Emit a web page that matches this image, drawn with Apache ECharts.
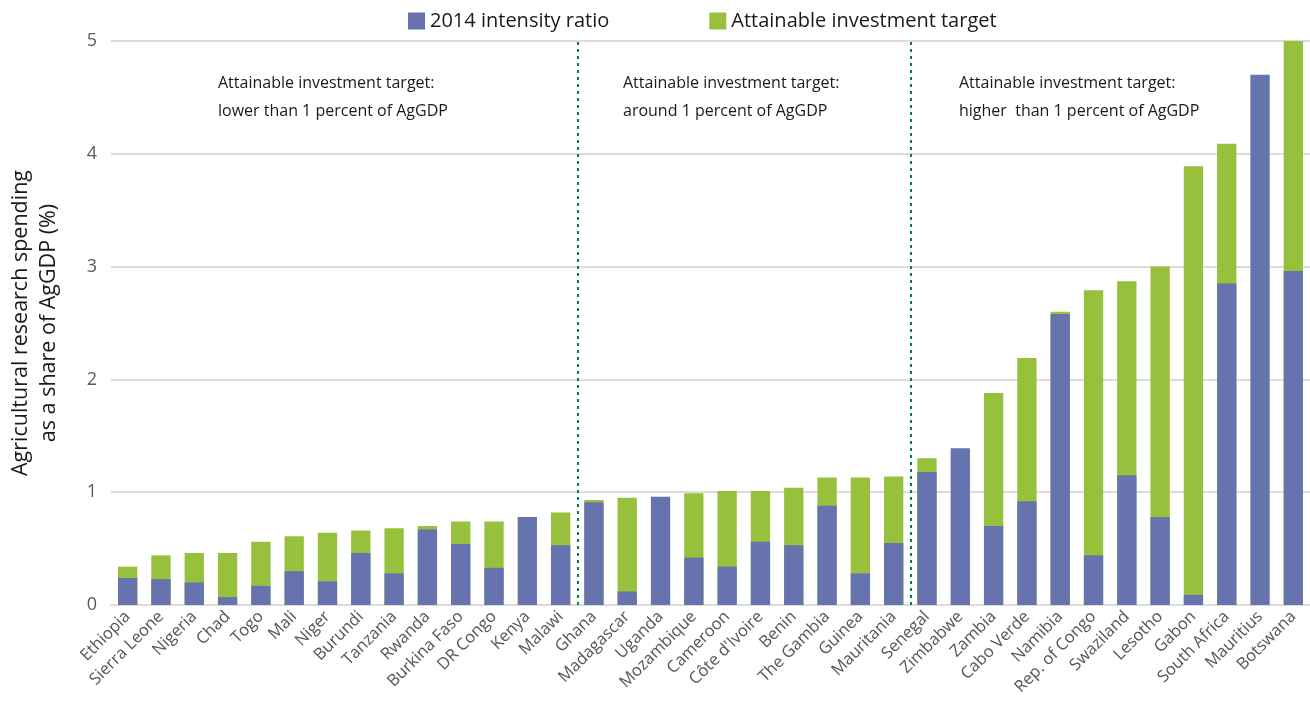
<!DOCTYPE html>
<html>
<head>
<meta charset="utf-8">
<script src="https://cdn.jsdelivr.net/npm/echarts@6/dist/echarts.min.js"></script>
<style>
html,body{margin:0;padding:0;background:#fff;}
#chart{width:1310px;height:706px;}
</style>
</head>
<body>
<div id="chart"></div>
<script>
const countries = ["Ethiopia","Sierra Leone","Nigeria","Chad","Togo","Mali","Niger","Burundi","Tanzania","Rwanda","Burkina Faso","DR Congo","Kenya","Malawi",
  "Ghana","Madagascar","Uganda","Mozambique","Cameroon","Côte d'Ivoire","Benin","The Gambia","Guinea","Mauritania",
  "Senegal","Zimbabwe","Zambia","Cabo Verde","Namibia","Rep. of Congo","Swaziland","Lesotho","Gabon","South Africa","Mauritius","Botswana"];
const intensity2014 = [0.24,0.23,0.20,0.07,0.17,0.30,0.21,0.46,0.28,0.67,0.54,0.33,0.78,0.53,
  0.91,0.12,0.96,0.42,0.34,0.56,0.53,0.88,0.28,0.55,
  1.18,1.39,0.70,0.92,2.58,0.44,1.15,0.78,0.09,2.85,4.70,2.96];
const attainableTarget = [0.34,0.44,0.46,0.46,0.56,0.61,0.64,0.66,0.68,0.70,0.74,0.74,null,0.82,
  0.93,0.95,null,0.99,1.01,1.01,1.04,1.13,1.13,1.14,
  1.30,null,1.88,2.19,2.60,2.79,2.87,3.00,3.89,4.09,null,5.00];
const yTicks = [0,1,2,3,4,5];
const dividerPositions = [14,24];
const groupNotes = [
  ["Attainable investment target:","lower than 1 percent of AgGDP"],
  ["Attainable investment target:","around 1 percent of AgGDP"],
  ["Attainable investment target:","higher  than 1 percent of AgGDP"]
];
const seriesNames = ["2014 intensity ratio","Attainable investment target"];

const FONT = "'Open Sans', 'Noto Sans', sans-serif";
const BLUE = "#6673af";
const GREEN = "#97c13c";

const chart = echarts.init(document.getElementById('chart'));
const noteX = [218, 623, 959];
const graphics = [];
groupNotes.forEach((lines, i) => {
  lines.forEach((t, j) => {
    graphics.push({type:'text', left: noteX[i], top: 75 + j*28,
      style:{text:t, font:"16px " + FONT, fill:'#1a1a1a'}});
  });
});

chart.setOption({
  animation:false,
  textStyle:{fontFamily:FONT},
  legend:{
    top:6, left:403, itemWidth:17, itemHeight:17, itemGap:100, icon:'rect',
    data:seriesNames,
    textStyle:{fontSize:20, color:'#1a1a1a', fontFamily:FONT}
  },
  grid:{left:111, right:0, top:41, bottom:101, containLabel:false, outerBoundsMode:'none'},
  xAxis:[{
    type:'category', data:countries,
    axisTick:{show:false},
    axisLine:{show:true, lineStyle:{color:'#dcdcdc', width:2}},
    axisLabel:{rotate:45, fontSize:16.5, color:'#555', interval:0, margin:9, fontFamily:FONT}
  },{
    type:'value', min:0, max:countries.length, show:false
  }],
  yAxis:{
    type:'value', min:yTicks[0], max:yTicks[yTicks.length-1], interval:1,
    name:'Agricultural research spending\nas a share of AgGDP (%)',
    nameLocation:'middle', nameGap:48, nameRotate:90,
    nameTextStyle:{fontSize:21.5, color:'#1a1a1a', lineHeight:28, fontFamily:FONT},
    axisLine:{show:false}, axisTick:{show:false},
    axisLabel:{fontSize:18, color:'#595959', margin:14, fontFamily:FONT},
    splitLine:{lineStyle:{color:'#dcdcdc', width:2}}
  },
  graphic:graphics,
  series:[
    {name:seriesNames[1], type:'bar', data:attainableTarget, barWidth:'58%',
     itemStyle:{color:GREEN}},
    {name:seriesNames[0], type:'bar', data:intensity2014, barWidth:'58%', barGap:'-100%',
     itemStyle:{color:BLUE}},
    {type:'scatter', xAxisIndex:1, data:[], silent:true,
     markLine:{symbol:'none', silent:true, label:{show:false},
       lineStyle:{color:'#0b7a4e', type:[3,4], width:2},
       data:dividerPositions.map(p=>({xAxis:p}))}}
  ]
});
</script>
</body>
</html>
